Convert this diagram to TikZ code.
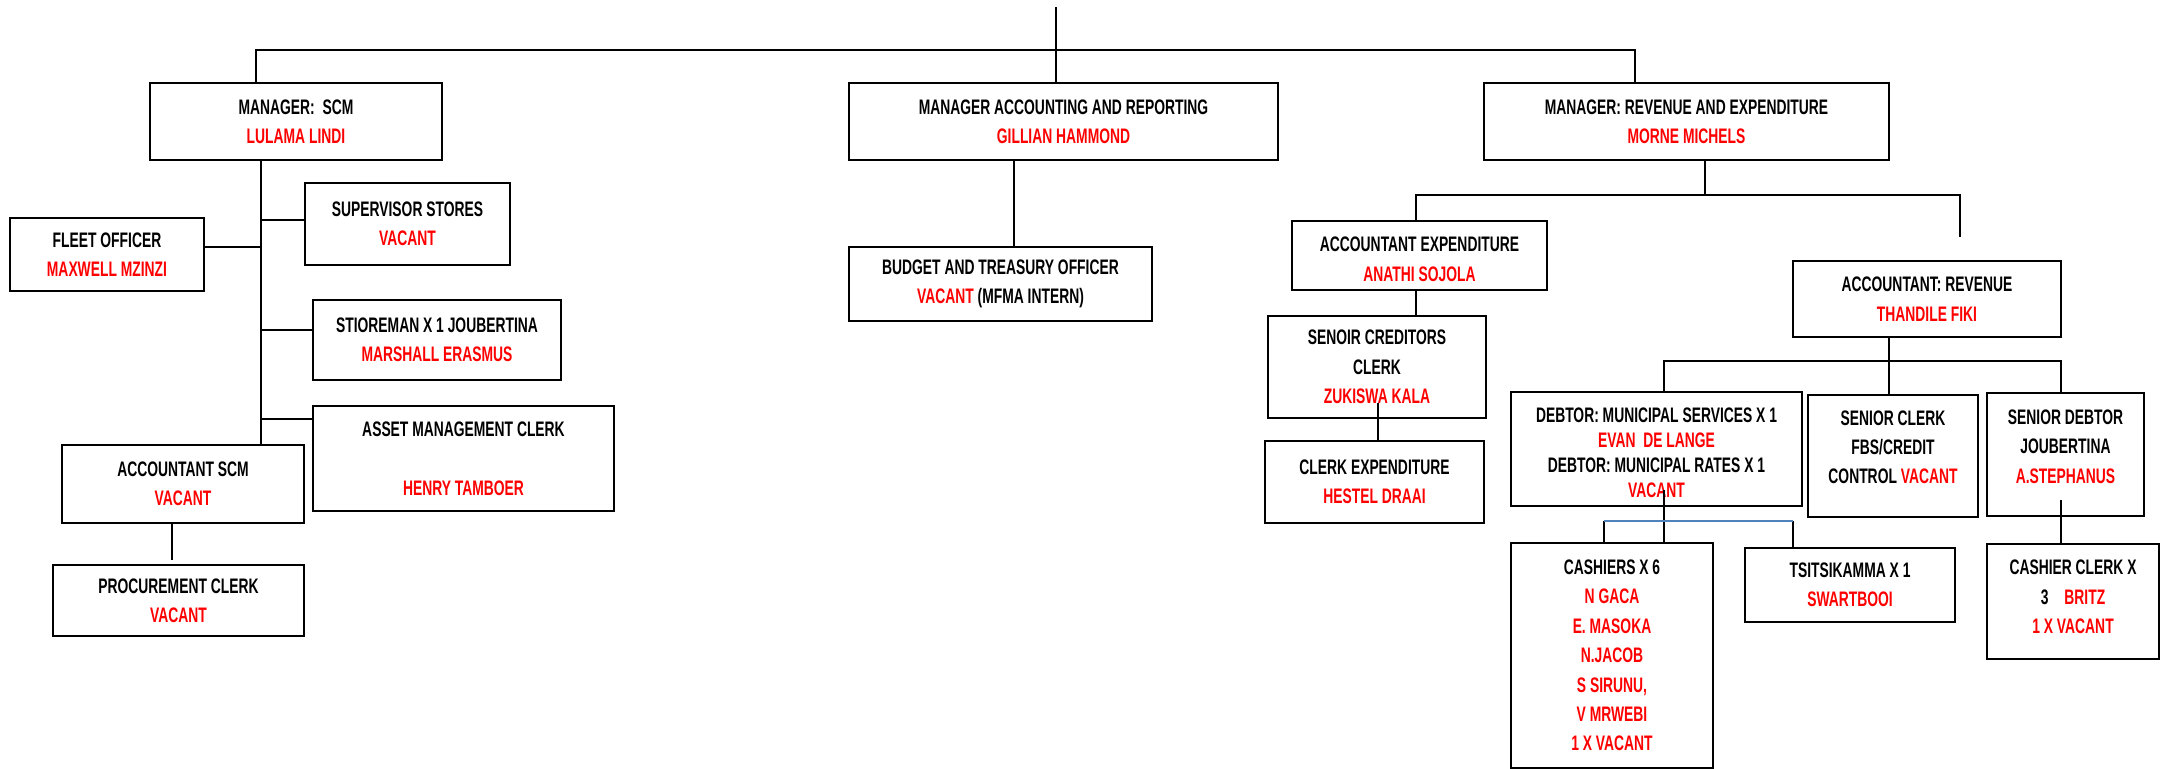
\documentclass[tikz,border=0pt]{standalone}
\usepackage{fontspec}
\newfontfamily\orgfont{Liberation Sans Bold}[FakeStretch=0.66]
\definecolor{linkblue}{RGB}{79,129,189}
\newcommand{\nm}[1]{\textcolor{red}{#1}}
\newcommand{\liftby}[2]{\raisebox{#1}[\height][\depth]{\begin{tabular}{@{}c@{}}#2\end{tabular}}}
\tikzset{
  orgbox/.style={draw, line width=1pt, fill=white, align=center, inner sep=0pt,
    font=\orgfont\fontsize{10.5}{14.7}\selectfont},
  wh/.style 2 args={minimum width=#1*0.5pt, minimum height=#2*0.5pt},
  conn/.style={line width=0.75pt},
}

\begin{document}
\begin{tikzpicture}[x=0.5pt, y=-0.5pt]
  \useasboundingbox[fill=white] (0,0) rectangle (2161,769);

  \node[orgbox, wh={292}{77}] (scm) at (296,121.5) {MANAGER:~~SCM\\\nm{LULAMA LINDI}};
  \node[orgbox, wh={429}{77}] (acc) at (1063.5,121.5) {MANAGER ACCOUNTING AND REPORTING\\\nm{GILLIAN HAMMOND}};
  \node[orgbox, wh={405}{77}] (rev) at (1686.5,121.5) {MANAGER: REVENUE AND EXPENDITURE\\\nm{MORNE MICHELS}};

  \node[orgbox, wh={205}{82}] (sup) at (407.5,224) {SUPERVISOR STORES\\\nm{VACANT}};
  \node[orgbox, wh={194}{73}] (fleet) at (107,254.5) {FLEET OFFICER\\\nm{MAXWELL MZINZI}};
  \node[orgbox, wh={248}{80}] (store) at (437,340) {STIOREMAN X 1 JOUBERTINA\\\nm{MARSHALL ERASMUS}};
  \node[orgbox, wh={301}{105}] (asset) at (463.5,458.5) {ASSET MANAGEMENT CLERK\\[14.7pt]\nm{HENRY TAMBOER}};
  \node[orgbox, wh={242}{78}] (accscm) at (183,484) {ACCOUNTANT SCM\\\nm{VACANT}};
  \node[orgbox, wh={251}{71}] (proc) at (178.5,600.5) {PROCUREMENT CLERK\\\nm{VACANT}};

  \node[orgbox, wh={303}{74}] (budget) at (1000.5,284) {BUDGET AND TREASURY OFFICER\\\nm{VACANT} (MFMA INTERN)};

  \node[orgbox, wh={255}{69}] (accexp) at (1419.5,255.5) {\liftby{-2.5pt}{ACCOUNTANT EXPENDITURE\\\nm{ANATHI SOJOLA}}};
  \node[orgbox, wh={218}{102}] (crd) at (1377,367) {SENOIR CREDITORS\\CLERK\\\nm{ZUKISWA KALA}};
  \node[orgbox, wh={219}{82}] (clexp) at (1374.5,482) {CLERK EXPENDITURE\\\nm{HESTEL DRAAI}};

  \node[orgbox, wh={268}{76}] (accrev) at (1927,299) {ACCOUNTANT: REVENUE\\\nm{THANDILE FIKI}};
  \node[orgbox, wh={291}{114}, font=\orgfont\fontsize{10.5}{12.5}\selectfont] (debtor) at (1656.5,449)
    {\liftby{-3.2pt}{DEBTOR: MUNICIPAL SERVICES X 1\\\nm{EVAN~~DE LANGE}\\DEBTOR: MUNICIPAL RATES X 1\\\nm{VACANT}}};
  \node[orgbox, wh={170}{122}] (snclk) at (1893,456) {\liftby{3.7pt}{SENIOR CLERK\\FBS/CREDIT\\CONTROL \nm{VACANT}}};
  \node[orgbox, wh={157}{123}] (sndeb) at (2065.5,454.5) {\liftby{3.2pt}{SENIOR DEBTOR\\JOUBERTINA\\\nm{A.STEPHANUS}}};
  \node[orgbox, wh={202}{225}] (cash) at (1612,655.5)
    {CASHIERS X 6\\\nm{N GACA}\\\nm{E. MASOKA}\\\nm{N.JACOB}\\\nm{S SIRUNU,}\\\nm{V MRWEBI}\\\nm{1 X VACANT}};
  \node[orgbox, wh={210}{74}] (tsi) at (1850,585) {TSITSIKAMMA X 1\\\nm{SWARTBOOI}};
  \node[orgbox, wh={172}{115}] (cclk) at (2073,601.5) {\liftby{1.5pt}{CASHIER CLERK X\\3\hspace{8pt}\nm{BRITZ}\\\nm{1 X VACANT}}};

  \coordinate (topend) at (1056,7);
  \coordinate (busl) at (256,50);
  \coordinate (busr) at (1635,50);
  \draw[conn, line width=1pt] (scm.north -| busl) -- (busl) -- (busr) -- (rev.north -| busr);
  \draw[conn] (topend) -- (acc.north -| topend);

  \coordinate (j1) at (261,220);
  \coordinate (j2) at (261,247);
  \coordinate (j3) at (261,330);
  \coordinate (j4) at (261,419);
  \draw[conn] (scm.south -| j1) -- (accscm.north -| j1);
  \draw[conn] (j1) -- (sup.west |- j1);
  \draw[conn] (j2) -- (fleet.east |- j2);
  \draw[conn] (j3) -- (store.west |- j3);
  \draw[conn] (j4) -- (asset.west |- j4);
  \coordinate (pc) at (172,560);
  \draw[conn] (accscm.south -| pc) -- (pc);

  \coordinate (bt) at (1014,247);
  \draw[conn] (acc.south -| bt) -- (budget.north -| bt);

  \coordinate (rb) at (1705,195);
  \coordinate (rbl) at (1416,195);
  \coordinate (rbr) at (1960,195);
  \coordinate (rbe) at (1960,237);
  \draw[conn] (rev.south -| rb) -- (rb);
  \draw[conn] (accexp.north -| rbl) -- (rbl) -- (rbr) -- (rbe);
  \draw[conn] (accexp.south -| rbl) -- (crd.north -| rbl);
  \coordinate (cc) at (1378,403);
  \draw[conn] (cc) -- (clexp.north -| cc);

  \coordinate (vb) at (1889,361);
  \coordinate (vbl) at (1664,361);
  \coordinate (vbr) at (2061,361);
  \draw[conn] (accrev.south -| vb) -- (snclk.north -| vb);
  \draw[conn] (debtor.north -| vbl) -- (vbl) -- (vbr) -- (sndeb.north -| vbr);

  \coordinate (db) at (1664,490);
  \coordinate (dbl) at (1604,521);
  \coordinate (dbr) at (1793,521);
  \draw[conn] (db) -- (db |- cash.north);
  \draw[conn] (cash.north -| dbl) -- (dbl);
  \draw[conn] (dbr) -- (tsi.north -| dbr);
  \draw[conn, linkblue, line width=1pt] (dbl) -- (dbr);
  \coordinate (sd) at (2061,500);
  \draw[conn] (sd) -- (cclk.north -| sd);
\end{tikzpicture}
\end{document}
